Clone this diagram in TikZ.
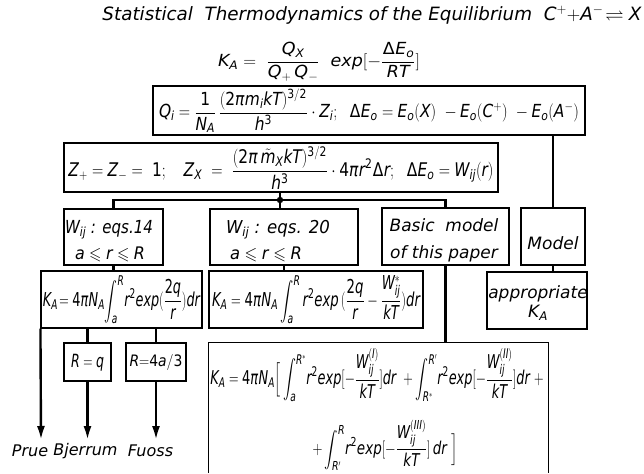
\documentclass[tikz,border=0pt]{standalone}
\usepackage{amsmath,amssymb}
\usepackage{mathspec}
\setmainfont{DejaVu Sans}
\setmathsfont(Digits,Latin,Greek){DejaVu Sans}
\usetikzlibrary{arrows.meta}
\newcommand{\myfs}[2]{\fontsize{#1}{#2}\selectfont}
\newcommand{\fitw}[2]{\resizebox{#1}{!}{#2}}
\newcommand{\fitwh}[3]{\resizebox*{#1}{#2}{#3}}
\begin{document}
\begin{tikzpicture}[x=1pt,y=-1pt,
  box/.style={draw, line width=1.1pt, inner sep=0pt},
  txt/.style={inner sep=0pt, align=center, font=\myfs{17}{27}\itshape},
  conn/.style={line width=2.4pt},
  arr/.style={line width=2.4pt, -{Latex[length=14pt,width=8pt]}}]
\fill[white] (0,0) rectangle (644,473);
\useasboundingbox (0,0) rectangle (644,473);

% title and main formula
\node[txt] (title) at (372,15) {\fitw{539pt}{\myfs{17}{20}\itshape Statistical\ \ Thermodynamics of the Equilibrium\ \ $C^+{+}A^-\!\rightleftharpoons X$}};
\node[txt] (KA) at (319,62) {\fitwh{202pt}{39pt}{$\displaystyle K_A=\ \frac{Q_X}{Q_+\,Q_-}\ \ exp[-\frac{\Delta E_o}{RT}]$}};

% boxes
\node[box, minimum width=432pt, minimum height=49pt] (Q) at (369,110.5) {};
\node[txt] (Qt) at (369,111) {\fitwh{420pt}{44pt}{$\displaystyle Q_i=\frac{1}{N_A}\,\frac{(2\pi m_i kT)^{3/2}}{h^3}\cdot Z_i;\ \ \Delta E_o=E_o(X)\ -E_o(C^+)\ -E_o(A^-)$}};

\node[box, minimum width=434pt, minimum height=49pt] (Z) at (281,167.5) {};
\node[txt] (Zt) at (281,168) {\fitwh{425pt}{43pt}{$\displaystyle Z_+=Z_-=\ 1;\quad Z_X\ =\ \frac{(2\pi\,\tilde{m}_X kT)^{3/2}}{h^3}\cdot 4\pi r^2\Delta r;\ \ \Delta E_o=W_{ij}(r)$}};

\node[box, minimum width=99pt, minimum height=56pt] (W14) at (113.5,237) {};
\node[txt] (W14a) at (109,230) {\fitwh{88pt}{19pt}{$W_{ij}$ : eqs.14}};
\node[txt] (W14b) at (110,254) {\fitwh{70pt}{15pt}{$a\leqslant r\leqslant R$}};

\node[box, minimum width=148pt, minimum height=56pt] (W20) at (284,237) {};
\node[txt] (W20a) at (278,230) {\fitwh{104pt}{19pt}{$W_{ij}$ : eqs. 20}};
\node[txt] (W20b) at (266,254) {\fitwh{72pt}{15pt}{$a\leqslant r\leqslant R$}};

\node[box, minimum width=127pt, minimum height=57pt] (Basic) at (445.5,236.5) {};
\node[txt] (Basict) at (444,240) {Basic\ \ model\\ of this paper};

\node[box, minimum width=64pt, minimum height=57pt] (Model) at (553,236.5) {};
\node[txt] (Modelt) at (553,243) {Model};

\node[box, minimum width=161pt, minimum height=57pt] (KA1) at (121.5,299.5) {};
\node[txt] (KA1t) at (121.5,299.5) {\fitwh{157pt}{48pt}{$\displaystyle K_A\!=4\pi N_A\!\int_a^R\! r^2 exp(\frac{2q}{r})dr$}};

\node[box, minimum width=214pt, minimum height=57pt] (KA2) at (316,299.5) {};
\node[txt] (KA2t) at (316,299.5) {\fitwh{208pt}{48pt}{$\displaystyle K_A=4\pi N_A\int_a^R r^2 exp\,(\frac{2q}{r}-\frac{W^{*}_{ij}}{kT})dr$}};

\node[box, minimum width=100pt, minimum height=57pt] (App) at (537,300.5) {};
\node[txt, font=\myfs{17}{19}\itshape] (Appt) at (538,303) {appropriate\\ $K_A$};

\node[box, minimum width=47pt, minimum height=38pt] (Rq) at (87.5,362) {};
\node[txt] (Rqt) at (87.5,363) {\fitwh{33pt}{17pt}{$R=q$}};

\node[box, minimum width=60pt, minimum height=38pt] (R43) at (156,362) {};
\node[txt] (R43t) at (156,362) {\fitwh{53pt}{16pt}{$R{=}4a/3$}};

\node[inner sep=0pt, minimum width=339pt, minimum height=130pt] (Big) at (378.5,408) {};
\draw[line width=1.1pt] (Big.south west) -- (Big.north west) -- (Big.north east) -- (Big.south east);
\node[txt] (L1) at (377,375) {\fitwh{333pt}{54pt}{$\displaystyle K_A=4\pi N_A\Big[\int_a^{R^*}\! r^2 exp[-\frac{W_{ij}^{(I)}}{kT}]dr\ +\int_{R^*}^{R'}\! r^2 exp[-\frac{W_{ij}^{(II)}}{kT}]dr\ +$}};
\node[txt] (L2) at (385,445) {\fitwh{145pt}{50pt}{$\displaystyle +\int_{R'}^{R}\! r^2 exp[-\frac{W_{ij}^{(III)}}{kT}]\,dr\ \Big]$}};

% labels
\node[txt, font=\myfs{16}{18}\itshape] (Prue) at (30,451) {Prue};
\node[txt, font=\myfs{16}{18}\itshape] (Bj) at (85.5,451) {Bjerrum};
\node[txt, font=\myfs{16}{18}\itshape] (Fu) at (150.5,451) {Fuoss};

% connectors
\coordinate (J) at (280,200);
\draw[conn] (Z.south -| J) -- (J);
\draw[conn] (W14.north) |- (J) -| (Basic.north);
\draw[conn] (J) -- (J |- W20.north);
\fill (J) circle (3.2pt);
\draw[conn] (Q.south -| Model.north) -- (Model.north);
\draw[conn] (Model.south) -- (Model.south |- App.north);
\draw[conn] (W14.south) -- (W14.south |- KA1.north);
\draw[conn] (W20.south) -- (W20.south |- KA2.north);
\draw[conn] (Basic.south) -- (Basic.south |- Big.north);
\coordinate (E) at (41,440);
\draw[arr] (KA1.south west) -- (E);
\draw[conn] (Rq.north |- KA1.south) -- (Rq.north);
\draw[conn] (R43.north |- KA1.south) -- (R43.north);
\draw[arr] (Rq.south) -- (Rq.south |- E);
\draw[arr] (R43.south) -- (R43.south |- E);
\end{tikzpicture}
\end{document}
